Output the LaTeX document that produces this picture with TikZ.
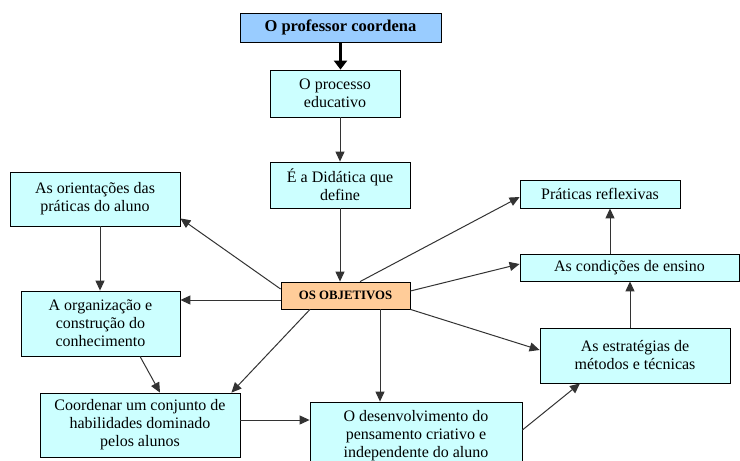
\documentclass[tikz,border=0pt]{standalone}
\usepackage{fontspec}
\setmainfont{Liberation Serif}
\usetikzlibrary{arrows.meta}
\definecolor{boxcyan}{HTML}{CCFFFF}
\definecolor{boxblue}{HTML}{99CCFF}
\definecolor{boxorange}{HTML}{FFCC99}
\definecolor{linegray}{HTML}{333333}
\begin{document}
\begin{tikzpicture}[x=1pt,y=-1pt,
  box/.style={draw=black,line width=0.8pt,fill=boxcyan,align=center,inner sep=0pt,
    font=\fontsize{16}{18}\selectfont},
  arr/.style={draw=linegray,line width=1pt,-{Triangle[length=10pt,width=9pt]},color=linegray},
  bigarr/.style={draw=black,line width=3.5pt,-{Triangle[length=9pt,width=13pt]}}]
\useasboundingbox[fill=white] (0,0) rectangle (740,461);
\node[box,fill=boxblue,minimum width=201pt,minimum height=29pt,font=\bfseries\fontsize{16.5}{19}\selectfont] (prof) at (340.5,27.5) {O professor coordena};
\node[box,minimum width=130pt,minimum height=47pt] (proc) at (335,93.5) {O processo\\educativo};
\node[box,minimum width=140pt,minimum height=46pt] (did) at (340,185) {É a Didática que\\define};
\node[box,fill=boxorange,minimum width=129pt,minimum height=27pt,font=\bfseries\fontsize{12.8}{15}\selectfont] (obj) at (345.5,295.5) {OS OBJETIVOS};
\node[box,minimum width=170pt,minimum height=54pt] (ori) at (95,199) {As orientações das\\práticas do aluno};
\node[box,minimum width=159pt,minimum height=65pt] (org) at (100.5,323.5) {A organização e\\construção do\\conhecimento};
\node[box,minimum width=200pt,minimum height=64pt] (coord) at (140,425) {Coordenar um conjunto de\\habilidades dominado\\pelos alunos};
\node[box,minimum width=212pt,minimum height=68pt] (des) at (416,436) {O desenvolvimento do\\pensamento criativo e\\independente do aluno};
\node[box,minimum width=160pt,minimum height=28pt] (pra) at (600,194) {Práticas reflexivas};
\node[box,minimum width=219pt,minimum height=27pt] (cond) at (629.5,267.5) {As condições de ensino};
\node[box,minimum width=190pt,minimum height=55pt] (est) at (635,355.5) {As estratégias de\\métodos e técnicas};

\draw[bigarr] (prof.south) -- (prof.south |- proc.north);
\draw[arr] ([xshift=5pt]proc.south) -- (did.north);
\draw[arr] (did.south) -- (did.south |- obj.north);
\draw[arr] ([yshift=6.5pt]obj.west) -- ([yshift=8pt]ori.south east);
\draw[arr] ([yshift=-4.5pt]obj.west) -- ([yshift=-4.5pt]obj.west -| org.east);
\draw[arr] ([xshift=5pt]ori.south) -- ([xshift=5pt]ori.south |- org.north);
\draw[arr] ([xshift=39.5pt]org.south) -- ([xshift=20pt]coord.north);
\draw[arr] ([xshift=-35.5pt]obj.south) -- ([xshift=-9pt]coord.north east);
\draw[arr] ([xshift=34.5pt]obj.south) -- ([xshift=34.5pt]obj.south |- des.north);
\draw[arr] ([yshift=5pt]coord.east) -- ([yshift=5pt]coord.east -| des.west);
\draw[arr] ([yshift=6pt]des.east) -- ([xshift=-55pt]est.south);
\draw[arr] (obj.south east) -- ([yshift=5.5pt]est.west);
\draw[arr] ([yshift=4.5pt]obj.east) -- ([yshift=3.5pt]cond.west);
\draw[arr] ([xshift=14.5pt]obj.north) -- ([yshift=-3pt]pra.west);
\draw[arr] ([xshift=-5pt]est.north) -- ([xshift=-5pt]est.north |- cond.south);
\draw[arr] ([xshift=-19.5pt]cond.north) -- ([xshift=-19.5pt]cond.north |- pra.south);
\end{tikzpicture}
\end{document}
